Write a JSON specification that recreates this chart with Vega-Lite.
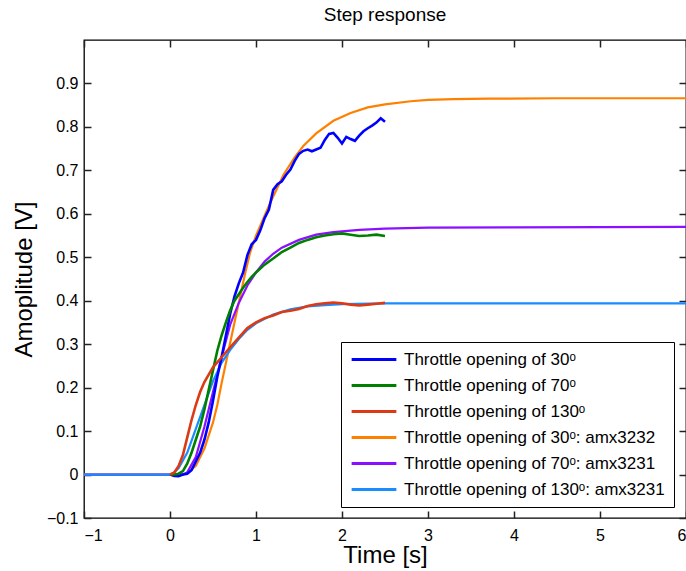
{
  "$schema": "https://vega.github.io/schema/vega-lite/v6.json",
  "width": 602,
  "height": 478,
  "autosize": {"type": "none"},
  "padding": {"left": 84, "top": 40, "right": 0, "bottom": 53},
  "background": "white",
  "config": {
    "font": "Liberation Sans",
    "view": {"stroke": "black", "strokeWidth": 1.3},
    "title": {"fontSize": 19, "fontWeight": "normal", "color": "black", "offset": 14},
    "axis": {"grid": false, "labelColor": "black", "titleColor": "black", "labelFontSize": 16, "titleFontSize": 24, "titleFontWeight": "normal"}
  },
  "title": {"text": "Step response"},
  "data": {"values": [
    {"s": "Throttle opening of 30ᵒ: amx3232", "t": -1, "v": 0},
    {"s": "Throttle opening of 30ᵒ: amx3232", "t": 0, "v": 0},
    {"s": "Throttle opening of 30ᵒ: amx3232", "t": 0.15, "v": 0},
    {"s": "Throttle opening of 30ᵒ: amx3232", "t": 0.2, "v": 0.003},
    {"s": "Throttle opening of 30ᵒ: amx3232", "t": 0.3, "v": 0.02},
    {"s": "Throttle opening of 30ᵒ: amx3232", "t": 0.4, "v": 0.06},
    {"s": "Throttle opening of 30ᵒ: amx3232", "t": 0.5, "v": 0.12},
    {"s": "Throttle opening of 30ᵒ: amx3232", "t": 0.55, "v": 0.16},
    {"s": "Throttle opening of 30ᵒ: amx3232", "t": 0.6, "v": 0.21},
    {"s": "Throttle opening of 30ᵒ: amx3232", "t": 0.68, "v": 0.285},
    {"s": "Throttle opening of 30ᵒ: amx3232", "t": 0.75, "v": 0.35},
    {"s": "Throttle opening of 30ᵒ: amx3232", "t": 0.87, "v": 0.46},
    {"s": "Throttle opening of 30ᵒ: amx3232", "t": 0.93, "v": 0.51},
    {"s": "Throttle opening of 30ᵒ: amx3232", "t": 1.0, "v": 0.55},
    {"s": "Throttle opening of 30ᵒ: amx3232", "t": 1.12, "v": 0.605},
    {"s": "Throttle opening of 30ᵒ: amx3232", "t": 1.2, "v": 0.64},
    {"s": "Throttle opening of 30ᵒ: amx3232", "t": 1.32, "v": 0.69},
    {"s": "Throttle opening of 30ᵒ: amx3232", "t": 1.45, "v": 0.73},
    {"s": "Throttle opening of 30ᵒ: amx3232", "t": 1.55, "v": 0.756},
    {"s": "Throttle opening of 30ᵒ: amx3232", "t": 1.7, "v": 0.785},
    {"s": "Throttle opening of 30ᵒ: amx3232", "t": 1.9, "v": 0.814},
    {"s": "Throttle opening of 30ᵒ: amx3232", "t": 2.1, "v": 0.832},
    {"s": "Throttle opening of 30ᵒ: amx3232", "t": 2.3, "v": 0.845},
    {"s": "Throttle opening of 30ᵒ: amx3232", "t": 2.5, "v": 0.852},
    {"s": "Throttle opening of 30ᵒ: amx3232", "t": 2.8, "v": 0.859},
    {"s": "Throttle opening of 30ᵒ: amx3232", "t": 3.0, "v": 0.862},
    {"s": "Throttle opening of 30ᵒ: amx3232", "t": 3.3, "v": 0.864},
    {"s": "Throttle opening of 30ᵒ: amx3232", "t": 3.7, "v": 0.865},
    {"s": "Throttle opening of 30ᵒ: amx3232", "t": 4.5, "v": 0.866},
    {"s": "Throttle opening of 30ᵒ: amx3232", "t": 6, "v": 0.866},
    {"s": "Throttle opening of 70ᵒ: amx3231", "t": -1, "v": 0},
    {"s": "Throttle opening of 70ᵒ: amx3231", "t": 0, "v": 0},
    {"s": "Throttle opening of 70ᵒ: amx3231", "t": 0.15, "v": 0},
    {"s": "Throttle opening of 70ᵒ: amx3231", "t": 0.2, "v": 0.005},
    {"s": "Throttle opening of 70ᵒ: amx3231", "t": 0.3, "v": 0.04},
    {"s": "Throttle opening of 70ᵒ: amx3231", "t": 0.4, "v": 0.11},
    {"s": "Throttle opening of 70ᵒ: amx3231", "t": 0.5, "v": 0.19},
    {"s": "Throttle opening of 70ᵒ: amx3231", "t": 0.6, "v": 0.27},
    {"s": "Throttle opening of 70ᵒ: amx3231", "t": 0.7, "v": 0.345},
    {"s": "Throttle opening of 70ᵒ: amx3231", "t": 0.8, "v": 0.395},
    {"s": "Throttle opening of 70ᵒ: amx3231", "t": 0.9, "v": 0.435},
    {"s": "Throttle opening of 70ᵒ: amx3231", "t": 1.0, "v": 0.465},
    {"s": "Throttle opening of 70ᵒ: amx3231", "t": 1.1, "v": 0.49},
    {"s": "Throttle opening of 70ᵒ: amx3231", "t": 1.2, "v": 0.508},
    {"s": "Throttle opening of 70ᵒ: amx3231", "t": 1.3, "v": 0.522},
    {"s": "Throttle opening of 70ᵒ: amx3231", "t": 1.5, "v": 0.54},
    {"s": "Throttle opening of 70ᵒ: amx3231", "t": 1.7, "v": 0.552},
    {"s": "Throttle opening of 70ᵒ: amx3231", "t": 1.9, "v": 0.558},
    {"s": "Throttle opening of 70ᵒ: amx3231", "t": 2.2, "v": 0.563},
    {"s": "Throttle opening of 70ᵒ: amx3231", "t": 2.5, "v": 0.566},
    {"s": "Throttle opening of 70ᵒ: amx3231", "t": 3.0, "v": 0.568},
    {"s": "Throttle opening of 70ᵒ: amx3231", "t": 4.0, "v": 0.569},
    {"s": "Throttle opening of 70ᵒ: amx3231", "t": 6, "v": 0.57},
    {"s": "Throttle opening of 130ᵒ: amx3231", "t": -1, "v": 0},
    {"s": "Throttle opening of 130ᵒ: amx3231", "t": 0, "v": 0},
    {"s": "Throttle opening of 130ᵒ: amx3231", "t": 0.05, "v": 0.005},
    {"s": "Throttle opening of 130ᵒ: amx3231", "t": 0.1, "v": 0.015},
    {"s": "Throttle opening of 130ᵒ: amx3231", "t": 0.2, "v": 0.05},
    {"s": "Throttle opening of 130ᵒ: amx3231", "t": 0.3, "v": 0.105},
    {"s": "Throttle opening of 130ᵒ: amx3231", "t": 0.4, "v": 0.16},
    {"s": "Throttle opening of 130ᵒ: amx3231", "t": 0.5, "v": 0.215},
    {"s": "Throttle opening of 130ᵒ: amx3231", "t": 0.6, "v": 0.257},
    {"s": "Throttle opening of 130ᵒ: amx3231", "t": 0.7, "v": 0.287},
    {"s": "Throttle opening of 130ᵒ: amx3231", "t": 0.8, "v": 0.312},
    {"s": "Throttle opening of 130ᵒ: amx3231", "t": 0.9, "v": 0.333},
    {"s": "Throttle opening of 130ᵒ: amx3231", "t": 1.0, "v": 0.348},
    {"s": "Throttle opening of 130ᵒ: amx3231", "t": 1.2, "v": 0.368},
    {"s": "Throttle opening of 130ᵒ: amx3231", "t": 1.4, "v": 0.38},
    {"s": "Throttle opening of 130ᵒ: amx3231", "t": 1.6, "v": 0.387},
    {"s": "Throttle opening of 130ᵒ: amx3231", "t": 1.8, "v": 0.39},
    {"s": "Throttle opening of 130ᵒ: amx3231", "t": 2.0, "v": 0.392},
    {"s": "Throttle opening of 130ᵒ: amx3231", "t": 2.5, "v": 0.394},
    {"s": "Throttle opening of 130ᵒ: amx3231", "t": 6, "v": 0.394},
    {"s": "Throttle opening of 30ᵒ", "t": 0, "v": 0},
    {"s": "Throttle opening of 30ᵒ", "t": 0.05, "v": -0.003},
    {"s": "Throttle opening of 30ᵒ", "t": 0.1, "v": -0.004},
    {"s": "Throttle opening of 30ᵒ", "t": 0.15, "v": 0.0},
    {"s": "Throttle opening of 30ᵒ", "t": 0.2, "v": 0.002},
    {"s": "Throttle opening of 30ᵒ", "t": 0.25, "v": 0.01},
    {"s": "Throttle opening of 30ᵒ", "t": 0.3, "v": 0.03},
    {"s": "Throttle opening of 30ᵒ", "t": 0.35, "v": 0.05},
    {"s": "Throttle opening of 30ᵒ", "t": 0.4, "v": 0.08},
    {"s": "Throttle opening of 30ᵒ", "t": 0.45, "v": 0.12},
    {"s": "Throttle opening of 30ᵒ", "t": 0.5, "v": 0.17},
    {"s": "Throttle opening of 30ᵒ", "t": 0.55, "v": 0.225},
    {"s": "Throttle opening of 30ᵒ", "t": 0.6, "v": 0.27},
    {"s": "Throttle opening of 30ᵒ", "t": 0.65, "v": 0.32},
    {"s": "Throttle opening of 30ᵒ", "t": 0.7, "v": 0.37},
    {"s": "Throttle opening of 30ᵒ", "t": 0.75, "v": 0.41},
    {"s": "Throttle opening of 30ᵒ", "t": 0.8, "v": 0.44},
    {"s": "Throttle opening of 30ᵒ", "t": 0.85, "v": 0.465},
    {"s": "Throttle opening of 30ᵒ", "t": 0.9, "v": 0.505},
    {"s": "Throttle opening of 30ᵒ", "t": 0.95, "v": 0.53},
    {"s": "Throttle opening of 30ᵒ", "t": 1.0, "v": 0.54},
    {"s": "Throttle opening of 30ᵒ", "t": 1.05, "v": 0.562},
    {"s": "Throttle opening of 30ᵒ", "t": 1.1, "v": 0.59},
    {"s": "Throttle opening of 30ᵒ", "t": 1.15, "v": 0.61},
    {"s": "Throttle opening of 30ᵒ", "t": 1.2, "v": 0.655},
    {"s": "Throttle opening of 30ᵒ", "t": 1.25, "v": 0.668},
    {"s": "Throttle opening of 30ᵒ", "t": 1.3, "v": 0.675},
    {"s": "Throttle opening of 30ᵒ", "t": 1.35, "v": 0.69},
    {"s": "Throttle opening of 30ᵒ", "t": 1.4, "v": 0.702},
    {"s": "Throttle opening of 30ᵒ", "t": 1.45, "v": 0.722},
    {"s": "Throttle opening of 30ᵒ", "t": 1.5, "v": 0.738},
    {"s": "Throttle opening of 30ᵒ", "t": 1.55, "v": 0.745},
    {"s": "Throttle opening of 30ᵒ", "t": 1.6, "v": 0.748},
    {"s": "Throttle opening of 30ᵒ", "t": 1.65, "v": 0.744},
    {"s": "Throttle opening of 30ᵒ", "t": 1.7, "v": 0.748},
    {"s": "Throttle opening of 30ᵒ", "t": 1.75, "v": 0.752},
    {"s": "Throttle opening of 30ᵒ", "t": 1.8, "v": 0.77},
    {"s": "Throttle opening of 30ᵒ", "t": 1.85, "v": 0.784},
    {"s": "Throttle opening of 30ᵒ", "t": 1.9, "v": 0.786},
    {"s": "Throttle opening of 30ᵒ", "t": 1.95, "v": 0.775},
    {"s": "Throttle opening of 30ᵒ", "t": 2.0, "v": 0.762},
    {"s": "Throttle opening of 30ᵒ", "t": 2.05, "v": 0.777},
    {"s": "Throttle opening of 30ᵒ", "t": 2.1, "v": 0.772},
    {"s": "Throttle opening of 30ᵒ", "t": 2.15, "v": 0.768},
    {"s": "Throttle opening of 30ᵒ", "t": 2.2, "v": 0.78},
    {"s": "Throttle opening of 30ᵒ", "t": 2.25, "v": 0.79},
    {"s": "Throttle opening of 30ᵒ", "t": 2.3, "v": 0.797},
    {"s": "Throttle opening of 30ᵒ", "t": 2.35, "v": 0.803},
    {"s": "Throttle opening of 30ᵒ", "t": 2.4, "v": 0.81},
    {"s": "Throttle opening of 30ᵒ", "t": 2.45, "v": 0.82},
    {"s": "Throttle opening of 30ᵒ", "t": 2.5, "v": 0.812},
    {"s": "Throttle opening of 70ᵒ", "t": 0, "v": 0},
    {"s": "Throttle opening of 70ᵒ", "t": 0.05, "v": 0},
    {"s": "Throttle opening of 70ᵒ", "t": 0.1, "v": 0.002},
    {"s": "Throttle opening of 70ᵒ", "t": 0.15, "v": 0.008},
    {"s": "Throttle opening of 70ᵒ", "t": 0.2, "v": 0.025},
    {"s": "Throttle opening of 70ᵒ", "t": 0.25, "v": 0.05},
    {"s": "Throttle opening of 70ᵒ", "t": 0.3, "v": 0.08},
    {"s": "Throttle opening of 70ᵒ", "t": 0.35, "v": 0.11},
    {"s": "Throttle opening of 70ᵒ", "t": 0.4, "v": 0.15},
    {"s": "Throttle opening of 70ᵒ", "t": 0.45, "v": 0.195},
    {"s": "Throttle opening of 70ᵒ", "t": 0.5, "v": 0.24},
    {"s": "Throttle opening of 70ᵒ", "t": 0.55, "v": 0.285},
    {"s": "Throttle opening of 70ᵒ", "t": 0.6, "v": 0.32},
    {"s": "Throttle opening of 70ᵒ", "t": 0.65, "v": 0.35},
    {"s": "Throttle opening of 70ᵒ", "t": 0.7, "v": 0.378},
    {"s": "Throttle opening of 70ᵒ", "t": 0.75, "v": 0.4},
    {"s": "Throttle opening of 70ᵒ", "t": 0.8, "v": 0.415},
    {"s": "Throttle opening of 70ᵒ", "t": 0.85, "v": 0.43},
    {"s": "Throttle opening of 70ᵒ", "t": 0.9, "v": 0.443},
    {"s": "Throttle opening of 70ᵒ", "t": 0.95, "v": 0.455},
    {"s": "Throttle opening of 70ᵒ", "t": 1.0, "v": 0.465},
    {"s": "Throttle opening of 70ᵒ", "t": 1.1, "v": 0.483},
    {"s": "Throttle opening of 70ᵒ", "t": 1.2, "v": 0.497},
    {"s": "Throttle opening of 70ᵒ", "t": 1.3, "v": 0.512},
    {"s": "Throttle opening of 70ᵒ", "t": 1.4, "v": 0.522},
    {"s": "Throttle opening of 70ᵒ", "t": 1.5, "v": 0.533},
    {"s": "Throttle opening of 70ᵒ", "t": 1.6, "v": 0.54},
    {"s": "Throttle opening of 70ᵒ", "t": 1.7, "v": 0.546},
    {"s": "Throttle opening of 70ᵒ", "t": 1.8, "v": 0.55},
    {"s": "Throttle opening of 70ᵒ", "t": 1.9, "v": 0.553},
    {"s": "Throttle opening of 70ᵒ", "t": 2.0, "v": 0.555},
    {"s": "Throttle opening of 70ᵒ", "t": 2.1, "v": 0.552},
    {"s": "Throttle opening of 70ᵒ", "t": 2.2, "v": 0.549},
    {"s": "Throttle opening of 70ᵒ", "t": 2.3, "v": 0.55},
    {"s": "Throttle opening of 70ᵒ", "t": 2.4, "v": 0.552},
    {"s": "Throttle opening of 70ᵒ", "t": 2.5, "v": 0.549},
    {"s": "Throttle opening of 130ᵒ", "t": 0, "v": 0},
    {"s": "Throttle opening of 130ᵒ", "t": 0.05, "v": 0.005},
    {"s": "Throttle opening of 130ᵒ", "t": 0.1, "v": 0.02},
    {"s": "Throttle opening of 130ᵒ", "t": 0.15, "v": 0.045},
    {"s": "Throttle opening of 130ᵒ", "t": 0.2, "v": 0.085},
    {"s": "Throttle opening of 130ᵒ", "t": 0.25, "v": 0.125},
    {"s": "Throttle opening of 130ᵒ", "t": 0.3, "v": 0.16},
    {"s": "Throttle opening of 130ᵒ", "t": 0.35, "v": 0.19},
    {"s": "Throttle opening of 130ᵒ", "t": 0.4, "v": 0.213},
    {"s": "Throttle opening of 130ᵒ", "t": 0.45, "v": 0.23},
    {"s": "Throttle opening of 130ᵒ", "t": 0.5, "v": 0.247},
    {"s": "Throttle opening of 130ᵒ", "t": 0.55, "v": 0.258},
    {"s": "Throttle opening of 130ᵒ", "t": 0.6, "v": 0.27},
    {"s": "Throttle opening of 130ᵒ", "t": 0.7, "v": 0.293},
    {"s": "Throttle opening of 130ᵒ", "t": 0.8, "v": 0.315},
    {"s": "Throttle opening of 130ᵒ", "t": 0.9, "v": 0.337},
    {"s": "Throttle opening of 130ᵒ", "t": 1.0, "v": 0.35},
    {"s": "Throttle opening of 130ᵒ", "t": 1.1, "v": 0.36},
    {"s": "Throttle opening of 130ᵒ", "t": 1.2, "v": 0.366},
    {"s": "Throttle opening of 130ᵒ", "t": 1.3, "v": 0.374},
    {"s": "Throttle opening of 130ᵒ", "t": 1.4, "v": 0.377},
    {"s": "Throttle opening of 130ᵒ", "t": 1.5, "v": 0.381},
    {"s": "Throttle opening of 130ᵒ", "t": 1.6, "v": 0.388},
    {"s": "Throttle opening of 130ᵒ", "t": 1.7, "v": 0.392},
    {"s": "Throttle opening of 130ᵒ", "t": 1.8, "v": 0.394},
    {"s": "Throttle opening of 130ᵒ", "t": 1.9, "v": 0.396},
    {"s": "Throttle opening of 130ᵒ", "t": 2.0, "v": 0.394},
    {"s": "Throttle opening of 130ᵒ", "t": 2.1, "v": 0.391},
    {"s": "Throttle opening of 130ᵒ", "t": 2.2, "v": 0.389},
    {"s": "Throttle opening of 130ᵒ", "t": 2.3, "v": 0.391},
    {"s": "Throttle opening of 130ᵒ", "t": 2.4, "v": 0.393},
    {"s": "Throttle opening of 130ᵒ", "t": 2.5, "v": 0.395}
  ]},
  "resolve": {"axis": {"x": "independent", "y": "independent"}},
  "layer": [
    {
      "transform": [{"filter": "indexof(datum.s, 'amx') >= 0"}],
      "mark": {"type": "line", "strokeWidth": 2.2, "clip": true},
      "encoding": {
        "x": {"field": "t", "type": "quantitative", "scale": {"domain": [-1, 6], "nice": false}, "axis": {"title": "Time [s]", "values": [-1, 0, 1, 2, 3, 4, 5, 6], "format": "~g", "titlePadding": 0, "labelPadding": 9, "domain": false, "ticks": true, "tickSize": 7, "offset": -7, "tickColor": "#222222", "tickWidth": 1.5}},
        "y": {"field": "v", "type": "quantitative", "scale": {"domain": [-0.1, 1.0], "nice": false, "zero": false}, "axis": {"title": "Amoplitude [V]", "values": [-0.1, 0, 0.1, 0.2, 0.3, 0.4, 0.5, 0.6, 0.7, 0.8, 0.9], "format": "~g", "labelPadding": 6, "titlePadding": 10, "domain": false, "ticks": true, "tickSize": 7, "offset": -7, "tickColor": "#222222", "tickWidth": 1.5}},
        "color": {
          "field": "s", "type": "nominal",
          "scale": {
            "domain": ["Throttle opening of 30ᵒ", "Throttle opening of 70ᵒ", "Throttle opening of 130ᵒ", "Throttle opening of 30ᵒ: amx3232", "Throttle opening of 70ᵒ: amx3231", "Throttle opening of 130ᵒ: amx3231"],
            "range": ["#0000ff", "#008000", "#dc3a14", "#ff8000", "#8a10ff", "#1a8cff"]
          },
          "legend": {
            "title": null, "orient": "none", "legendX": 257, "legendY": 302,
            "symbolType": "stroke", "symbolStrokeWidth": 3, "symbolSize": 2000,
            "labelFontSize": 17, "labelColor": "black", "labelLimit": 400, "labelOffset": 6,
            "clipHeight": 17,
            "strokeColor": "black", "fillColor": "white", "padding": 9, "rowPadding": 8
          }
        }
      }
    },
    {
      "transform": [{"filter": "indexof(datum.s, 'amx') < 0"}],
      "mark": {"type": "line", "strokeWidth": 2.6, "clip": true},
      "encoding": {
        "x": {"field": "t", "type": "quantitative", "axis": null},
        "y": {"field": "v", "type": "quantitative", "axis": null},
        "color": {"field": "s", "type": "nominal"}
      }
    },
    {
      "mark": {"type": "point", "opacity": 0},
      "encoding": {
        "x": {"field": "t", "type": "quantitative", "axis": {"orient": "top", "labels": false, "title": null, "values": [-1, 0, 1, 2, 3, 4, 5, 6], "domain": false, "ticks": true, "tickSize": 7, "offset": -7, "tickColor": "#222222", "tickWidth": 1.5}},
        "y": {"field": "v", "type": "quantitative", "axis": {"orient": "right", "labels": false, "title": null, "values": [-0.1, 0, 0.1, 0.2, 0.3, 0.4, 0.5, 0.6, 0.7, 0.8, 0.9], "domain": false, "ticks": true, "tickSize": 7, "offset": -7, "tickColor": "#222222", "tickWidth": 1.5}}
      }
    }
  ]
}
